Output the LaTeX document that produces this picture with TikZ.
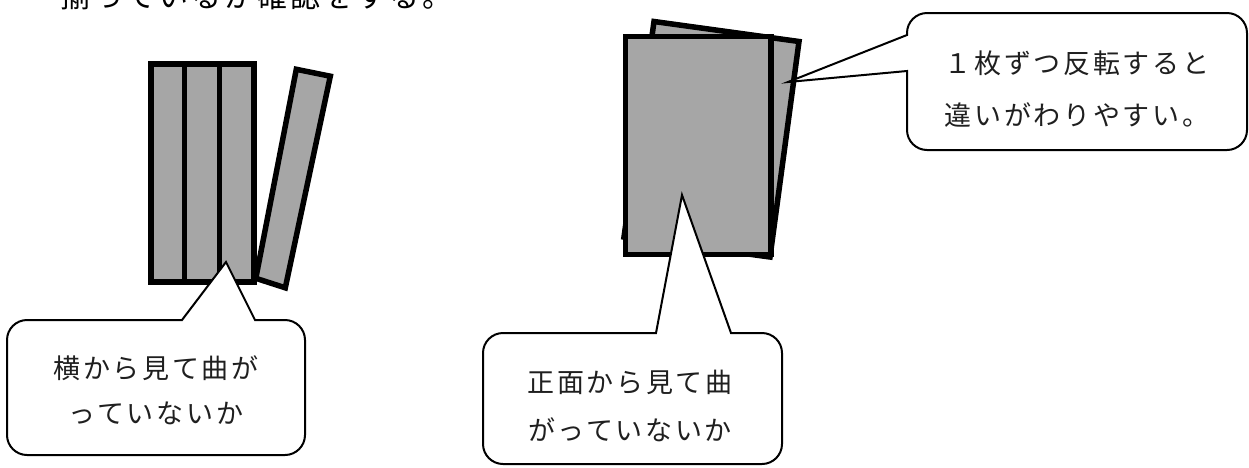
\documentclass[tikz,border=0pt]{standalone}
\usepackage{fontspec}
\newfontfamily\jpfont[LetterSpace=10]{Noto Sans CJK JP}
\definecolor{boxgray}{RGB}{166,166,166}
\tikzset{
  sheet/.style={draw=black, fill=boxgray, line width=5.5pt, line join=miter},
  callout/.style={draw=black, fill=white, line width=2pt, line join=miter},
  lbl/.style={inner sep=0pt, text=black!88, font=\jpfont\fontsize{27}{30}\selectfont},
  headtxt/.style={inner sep=0pt, anchor=south west, text=black, font=\jpfont\fontsize{30}{33}\selectfont}
}
\begin{document}
\begin{tikzpicture}[x=1pt,y=-1pt]
\useasboundingbox (0,0) rectangle (1249,467);
\begin{scope}
\clip (0,0) rectangle (1249,467);
\node[headtxt] (head) at (60.5,10) {揃っているか確認をする。};
\end{scope}

% left group: three upright strips and one leaning strip
\draw[sheet] (151,64) rectangle (184.5,282);
\draw[sheet] (184.5,64) rectangle (219.5,282);
\draw[sheet] (219.5,64) rectangle (254,282);
\draw[sheet] (296.3,69.3) -- (330.3,76.2) -- (285.3,287.8) -- (255.8,278.3) -- cycle;

% right group: back sheet (rotated) and front sheet
\draw[sheet] (654,21.5) -- (799,41.5) -- (770,257) -- (624,237) -- cycle;
\draw[sheet] (625.5,36.3) rectangle (771,254.5);

% callout 1 (left)
\draw[callout] (255,320) -- (285,320) .. controls (296,320) and (305,329) .. (305,340)
  -- (305,435) .. controls (305,446) and (296,455) .. (285,455)
  -- (27,455) .. controls (16,455) and (7,446) .. (7,435)
  -- (7,340) .. controls (7,329) and (16,320) .. (27,320)
  -- (182,320) -- (226,262) -- cycle;
\node[lbl] (c1a) at (156,368) {横から見て曲が};
\node[lbl] (c1b) at (156,413) {っていないか};

% callout 2 (middle)
\draw[callout] (731,333) -- (762,333) .. controls (773,333) and (782,342) .. (782,353)
  -- (782,444) .. controls (782,455) and (773,464) .. (762,464)
  -- (503,464) .. controls (492,464) and (483,455) .. (483,444)
  -- (483,353) .. controls (483,342) and (492,333) .. (503,333)
  -- (656,333) -- (682,195) -- cycle;
\node[lbl] (c2a) at (630,382) {正面から見て曲};
\node[lbl] (c2b) at (630,430) {がっていないか};

% callout 3 (top right)
\draw[callout] (907,71) -- (907,130) .. controls (907,141) and (916,150) .. (927,150)
  -- (1227,150) .. controls (1238,150) and (1247,141) .. (1247,130)
  -- (1247,33) .. controls (1247,22) and (1238,13) .. (1227,13)
  -- (927,13) .. controls (916,13) and (907,22) .. (907,33)
  -- (907,35) -- (788,82) -- cycle;
\node[lbl] (c3a) at (1077,63) {１枚ずつ反転すると};
\node[lbl] (c3b) at (1077,115) {違いがわりやすい。};
\end{tikzpicture}
\end{document}
